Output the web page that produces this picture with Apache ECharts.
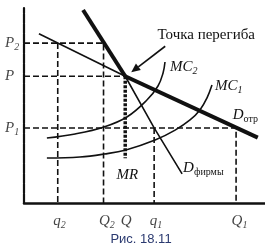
<!DOCTYPE html>
<html><head><meta charset="utf-8">
<script src="https://cdn.jsdelivr.net/npm/echarts@6/dist/echarts.min.js"></script>
<style>html,body{margin:0;padding:0;background:#fff}#c{width:265px;height:250px}</style>
</head><body><div id="c"></div>
<script>
// ---- data (chart units: quantity on x, price on y) ----
const xTickMain = ['q', 'Q', 'Q', 'q', 'Q'];
const xTickSub = ['2', '2', '', '1', '1'];
const xTickValues = [1.4, 3.3, 4.2, 5.4, 8.8];      // q2, Q2, Q, q1, Q1
const yTickMain = ['P', 'P', 'P'];
const yTickSub = ['2', '', '1'];
const yTickValues = [8.2, 6.5, 3.85];               // P2, P, P1
const elasticDemandThin = [[0.62, 8.68], [4.2, 6.5]];
const elasticDemandThick = [[4.2, 6.5], [9.7, 3.35]];
const inelasticDemandThick = [[2.45, 9.9], [4.2, 6.5]];
const inelasticDemandThin = [[4.2, 6.5], [5.4, 3.85], [6.56, 1.49]];
const mc2 = [[0.95, 3.33], [2.12, 3.54], [3.32, 3.90], [4.27, 4.41], [5.10, 5.28], [5.56, 6.00], [5.77, 6.67], [5.85, 7.23]];
const mc1 = [[0.95, 2.31], [2.32, 2.36], [3.32, 2.51], [4.23, 2.72], [5.44, 3.23], [6.27, 3.74], [6.89, 4.26], [7.30, 4.77], [7.59, 5.38], [7.80, 6.05]];
const mrGapBottom = 2.3;
const caption = 'Рис. 18.11';
const kinkText = 'Точка перегиба';

const [q2, Q2, Q, q1, Q1] = xTickValues;
const [P2, P, P1] = yTickValues;

const serif = 'Liberation Serif';
const ink = '#111';
const rich = {
  m: {fontFamily: serif, fontStyle: 'italic', fontSize: 15, lineHeight: 19, color: ink},
  s: {fontFamily: serif, fontStyle: 'italic', fontSize: 10, verticalAlign: 'bottom', color: ink},
  c: {fontFamily: serif, fontSize: 10, verticalAlign: 'bottom', color: ink}
};
function lbl(main, sub, cyr) { return '{m|' + main + '}' + (sub ? '{' + (cyr ? 'c' : 's') + '|' + sub + '}' : ''); }

function guide(data, width, type, endLabel) {
  const s = {type: 'line', data: data, symbol: 'none', silent: true, animation: false, z: 1,
    lineStyle: {color: ink, width: width, type: type}};
  if (endLabel) s.endLabel = Object.assign({show: true, distance: 0, rich: rich, verticalAlign: 'middle'}, endLabel);
  return s;
}
function curve(data, width, smooth, endLabel) {
  const s = {type: 'line', data: data, symbol: 'none', silent: true, animation: false, smooth: smooth, z: 3,
    lineStyle: {color: ink, width: width, cap: 'butt'}};
  if (endLabel) s.endLabel = Object.assign({show: true, distance: 0, rich: rich, align: 'left', verticalAlign: 'middle'}, endLabel);
  return s;
}

const chart = echarts.init(document.getElementById('c'), null, {renderer: 'canvas'});
const option = {
  animation: false,
  backgroundColor: '#fff',
  grid: {left: 24, top: 8, width: 241, height: 195},
  xAxis: {type: 'value', min: 0, max: 10, splitLine: {show: false}, axisTick: {show: false}, axisLabel: {show: false},
    axisLine: {lineStyle: {color: ink, width: 2.5}}},
  yAxis: {type: 'value', min: 0, max: 10, splitLine: {show: false}, axisTick: {show: false}, axisLabel: {show: false},
    axisLine: {lineStyle: {color: ink, width: 2.2, type: [9, 1]}}},
  series: [
    guide([[0, P2], [Q2, P2], [Q2, 0]], 1.6, [6, 3]),
    guide([[q2, P2], [q2, 0]], 1.6, [6, 3]),
    guide([[0, P], [Q, P]], 1.6, [6, 3]),
    guide([[0, P1], [Q1, P1], [Q1, 0]], 1.6, [6, 3]),
    guide([[q1, P1], [q1, 0]], 1.6, [6, 3]),
    guide([[Q, P], [Q, mrGapBottom]], 3.5, [3, 1.5], {formatter: lbl('MR'), align: 'center', offset: [2, 17]}),
    curve(mc2, 1.6, 0.4, {formatter: lbl('MC', '2'), offset: [5, 5]}),
    curve(mc1, 1.6, 0.4, {formatter: lbl('MC', '1'), offset: [3, 1]}),
    curve(elasticDemandThin, 1.6, false),
    curve(inelasticDemandThin, 1.6, false, {formatter: lbl('D', 'фирмы', true), offset: [1, -6]}),
    curve(elasticDemandThick, 4, false, {formatter: lbl('D', 'отр', true), offset: [-25, -23]}),
    curve(inelasticDemandThick, 4, false),
    {type: 'scatter', data: xTickValues.map(v => [v, 0]), symbolSize: 1, itemStyle: {color: 'rgba(0,0,0,0)'},
      silent: true, clip: false, z: 5,
      label: {show: true, position: 'inside', align: 'left', verticalAlign: 'middle', offset: [-4.5, 18], rich: rich,
        formatter: p => lbl(xTickMain[p.dataIndex], xTickSub[p.dataIndex])}},
    {type: 'scatter', data: yTickValues.map(v => [0, v]), symbolSize: 1, itemStyle: {color: 'rgba(0,0,0,0)'},
      silent: true, clip: false, z: 5,
      label: {show: true, position: 'inside', align: 'left', verticalAlign: 'middle', offset: [-19, 0], rich: rich,
        formatter: p => lbl(yTickMain[p.dataIndex], yTickSub[p.dataIndex])}}
  ]
};
chart.setOption(option);

// annotation: arrow pointing at the kink (Q, P)
const k = chart.convertToPixel({gridIndex: 0}, [Q, P]);
const start = [k[0] + 40, k[1] - 30];
const tip = [k[0] + 6, k[1] - 4];
const dx = tip[0] - start[0], dy = tip[1] - start[1];
const len = Math.hypot(dx, dy), ux = dx / len, uy = dy / len;
const headL = 9, headW = 4;
const base = [tip[0] - ux * headL, tip[1] - uy * headL];
chart.setOption({
  graphic: [
    {type: 'line', silent: true, shape: {x1: start[0], y1: start[1], x2: base[0], y2: base[1]}, style: {stroke: ink, lineWidth: 1.6}},
    {type: 'polygon', silent: true, shape: {points: [tip, [base[0] - uy * headW, base[1] + ux * headW], [base[0] + uy * headW, base[1] - ux * headW]]}, style: {fill: ink}},
    {type: 'text', silent: true, x: k[0] + 81, y: k[1] - 41, style: {text: kinkText, font: '15px "Liberation Serif"', fill: ink, align: 'center', verticalAlign: 'middle'}},
    {type: 'text', silent: true, x: 141, y: 239, style: {text: caption, font: '13px "Liberation Sans"', fill: '#2b3a70', align: 'center', verticalAlign: 'middle'}}
  ]
});
</script>
</body></html>
